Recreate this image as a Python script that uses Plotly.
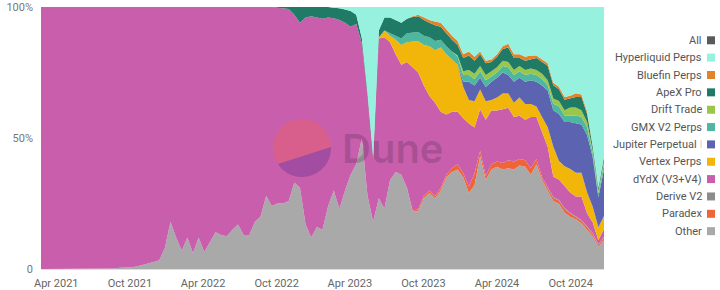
import math
import pandas as pd
import plotly.graph_objects as go

# ---------------- data (share of volume, %, biweekly) ----------------
dates = pd.date_range("2021-02-22", periods=101, freq="14D").strftime("%Y-%m-%d").tolist()

other = [0, 0, 0, 0, 0, 0, 0, 0, 0, 0, 0, 0, 0, 0.2, 0.5, 0.5, 0.7, 1.0, 1.5, 2.0,
         2.7, 3.3, 8, 18, 12, 7, 12, 6, 12, 6.5, 10, 14, 13, 12.5, 15, 17, 13, 13, 18, 20,
         28, 24, 25, 25, 26, 33, 31, 17, 12, 16, 15, 24, 30, 23, 30, 36, 40, 50, 28, 18,
         27, 23, 34, 37, 36, 31, 22, 22, 27, 29, 27, 30, 35, 37, 38, 35, 29, 32, 43, 34,
         38, 39, 38, 38.5, 38, 39.5, 39, 36, 40, 34, 30, 26, 25, 21.5, 20, 19, 17.5, 15, 12.5, 8.5,
         11]

dydx = [100, 100, 100, 100, 100, 100, 100, 100, 100, 100, 100, 100, 100, 99.8, 99.5, 99.5, 99.3, 99, 98.5, 98,
        97.3, 96.7, 92, 82, 88, 93, 88, 94, 88, 93.5, 90, 86, 87, 87.5, 85, 83, 87, 87, 82, 80,
        72, 76, 74.7, 74.5, 73.2, 64, 63, 79, 84.5, 80, 80.5, 72, 65.7, 72, 64, 56.5, 53.5, 36, 38, 24,
        61, 65.5, 52.5, 45, 42, 48, 54.7, 52.2, 42, 36, 35.5, 29, 23, 21.5, 20, 21, 24, 17.5, 16, 21.5,
        20.5, 19.5, 20.5, 20, 17, 16.5, 15.5, 19.5, 16, 17, 15.5, 7.8, 7.8, 8.5, 7.8, 7.5, 9, 5, 4, 1.5,
        3]

paradex = [0.3, 0.8, 1, 1, 1, 1, 1, 1.5, 2, 1.5, 2.5, 4.5, 2, 1.5, 2, 2, 2.5, 3, 3, 2.5,
           2.5, 2.5, 2, 1, 1, 1.2, 1.2, 1.5, 1.2, 1, 1, 1, 1, 0.7, 1]

derive = [0.3, 0.3, 0.3, 0.3, 0.3, 0.3, 0.3, 0.3, 0.3, 0.3, 0.3]

vertex = [0.5, 2.5, 2.5, 5.5, 7.5, 7.5, 9.7, 12, 15.5, 19, 20, 24.5, 23, 20, 18, 12, 9, 10, 7.5, 7,
          4, 5, 6, 5.5, 5.5, 7, 6, 5, 4, 6, 7.5, 11.5, 7, 7.5, 9, 9, 9, 8, 6, 5, 5]

jupiter = [2, 7, 6, 4.5, 5.5, 7, 7.5, 8, 7, 8, 7.5, 8.5, 9, 9.5, 12, 14, 14, 18, 17, 18,
           19, 18.5, 22, 19, 11.5, 18]

gmx = [1, 1.5, 2.5, 3.5, 3.5, 3.5, 3.5, 3.5, 3.5, 3, 3, 3, 3, 2.5, 2.5, 2.5, 2.5, 2.5, 2, 2,
       2.5, 3, 2.5, 2.5, 2.5, 2.5, 2.5, 2.5, 2, 2.5, 3, 2.5, 2.5, 3, 3, 3, 1.5, 1.5, 2]

drift = [0.5, 1.5, 2, 2, 2, 2, 2, 2, 2, 2, 2, 2, 2, 2, 2, 2, 2, 2, 2, 2,
         3, 3, 2.5, 2, 1, 1, 1]

apex = [0.3, 0.5, 0.8, 3, 6, 4, 3.5, 4, 4.5, 4, 4, 4.5, 5, 6, 3.5, 2, 1.5, 1, 2.5, 5,
        6, 6, 6, 5.5, 6, 6, 6, 5.5, 6, 5, 5, 4.5, 4, 5, 5.5, 5, 4.5, 4.5, 3.5, 4,
        4.5, 5.5, 4.5, 3, 3.5, 3.5, 4.5, 4.5, 5.5, 5, 4.5, 4, 3.5, 4, 5, 3, 1.5, 1, 1.5]

bluefin = [0.3, 0.5, 1, 1, 1.5, 1.5, 1.5, 1.5, 1.5, 1.5, 1.5, 1.5, 1, 1, 1, 1, 1, 1.5, 1.5, 1.5,
           1.5, 1.5, 1, 1, 1, 1, 1, 1, 1, 1.5, 1, 1, 0.5, 0.3, 0.5]

hyper = [0.3, 0.5, 1, 1.5, 3, 12, 32.5, 57, 9, 4, 4, 5, 6, 4.5, 3.5, 3, 4, 5, 5.5, 6,
         8.5, 11, 13, 18, 17, 19, 17, 20.5, 20, 18, 15, 14, 18, 18, 19, 18.5, 18.5, 20, 21.5, 29,
         30.5, 34.5, 34, 33, 33.5, 40, 53, 69, 57]

legend_names = ["All", "Hyperliquid Perps", "Bluefin Perps", "ApeX Pro", "Drift Trade",
                "GMX V2 Perps", "Jupiter Perpetual", "Vertex Perps", "dYdX (V3+V4)",
                "Derive V2", "Paradex", "Other"]

y_tickvals = [0, 50, 100]
y_ticktext = ["0", "50%", "100%"]

# ---------------- styling ----------------
colors = {
    "All": "#5a5a5a",
    "Hyperliquid Perps": "#96f2df",
    "Bluefin Perps": "#e2832b",
    "ApeX Pro": "#1f7a66",
    "Drift Trade": "#9cc64a",
    "GMX V2 Perps": "#4db89f",
    "Jupiter Perpetual": "#5c63b1",
    "Vertex Perps": "#f2b50a",
    "dYdX (V3+V4)": "#c95eac",
    "Derive V2": "#8c8c8c",
    "Paradex": "#f0643a",
    "Other": "#a9a9a9",
}

stack = [  # bottom to top
    ("Other", other), ("Paradex", paradex), ("Derive V2", derive), ("dYdX (V3+V4)", dydx),
    ("Vertex Perps", vertex), ("Jupiter Perpetual", jupiter), ("GMX V2 Perps", gmx),
    ("Drift Trade", drift), ("ApeX Pro", apex), ("Bluefin Perps", bluefin),
    ("Hyperliquid Perps", hyper),
]

FONT = "Roboto"
L, R, T, B = 41, 604, 7, 269
W, H = 720, 290

fig = go.Figure()
for k, (name, vals) in enumerate(stack):
    xs = dates[len(dates) - len(vals):]
    fig.add_trace(go.Scatter(
        x=xs, y=vals, name=name, mode="lines",
        stackgroup="one", groupnorm="percent" if k == 0 else None,
        stackgaps="infer zero",
        line=dict(width=0, color=colors[name], shape="linear"),
        fillcolor=colors[name], showlegend=False,
    ))


def px_x(x):
    return (x - L) / (R - L)


def px_y(y):
    return (B - y) / (B - T)


annotations = []
shapes = []
# custom legend: text right-aligned, square marker on the right
for k, name in enumerate(legend_names):
    yc = 40.3 + 17.35 * k
    label = name
    if name == "Jupiter Perpetual":
        label = "Jupiter Perpetual <span style='color:#d8d8d8'>I</span>"
    annotations.append(dict(
        x=px_x(704), y=px_y(yc), xref="paper", yref="paper", text=label,
        showarrow=False, xanchor="right", yanchor="middle",
        font=dict(family=FONT, size=11, color="#555555"),
    ))
    shapes.append(dict(
        type="rect", xref="paper", yref="paper",
        x0=px_x(707), x1=px_x(715), y0=px_y(yc - 4), y1=px_y(yc + 4),
        fillcolor=colors[name], line=dict(width=0), layer="above",
    ))

# watermark (Dune logo)
cx, cy, r = 302, 148, 29
a_left, a_right = 146.3, -2.0


def arc(a0, a1, n=40):
    pts = []
    for j in range(n + 1):
        a = math.radians(a0 + (a1 - a0) * j / n)
        pts.append((px_x(cx + r * math.cos(a)), px_y(cy + r * math.sin(a))))
    return "M " + " L ".join(f"{p[0]:.5f},{p[1]:.5f}" for p in pts) + " Z"


shapes.append(dict(type="path", xref="paper", yref="paper", path=arc(a_left, 358.0),
                   fillcolor="rgba(251,101,65,0.30)", line=dict(width=0), layer="above"))
shapes.append(dict(type="path", xref="paper", yref="paper", path=arc(a_right, a_left),
                   fillcolor="rgba(80,45,140,0.32)", line=dict(width=0), layer="above"))
annotations.append(dict(
    x=px_x(393), y=px_y(148), xref="paper", yref="paper", text="Dune", showarrow=False,
    xanchor="center", yanchor="middle",
    font=dict(family="Inter", size=40, color="rgba(50,30,60,0.22)", weight=600),
))

fig.update_layout(
    width=W, height=H,
    margin=dict(l=L, r=W - R, t=T, b=H - B, autoexpand=False),
    paper_bgcolor="white", plot_bgcolor="white",
    font=dict(family=FONT, size=11, color="#666666"),
    xaxis=dict(
        type="date", range=[dates[0], dates[-1]], showgrid=False, zeroline=False,
        showline=True, linecolor="#dddddd", linewidth=1, automargin=False,
        dtick="M6", tick0="2021-04-01", tickformat="%b %Y", ticks="",
        tickfont=dict(family=FONT, size=11, color="#666666"), ticklabelstandoff=4,
    ),
    yaxis=dict(
        range=[0, 100], showgrid=False, zeroline=False, showline=False, automargin=False,
        tickvals=y_tickvals, ticktext=y_ticktext, ticks="",
        tickfont=dict(family=FONT, size=11, color="#777777"), ticklabelstandoff=7,
    ),
    annotations=annotations, shapes=shapes, hovermode="x",
)

fig.write_html("out.html")
